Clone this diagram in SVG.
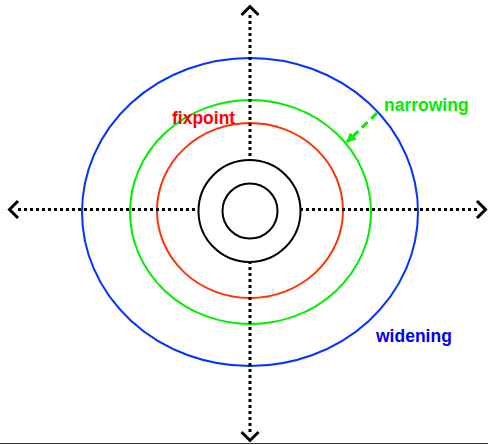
<svg xmlns="http://www.w3.org/2000/svg" width="488" height="445" viewBox="0 0 488 445">
<style>
.axis{stroke:#000;stroke-width:3;stroke-dasharray:3 3;fill:none}
.head{stroke:#000;stroke-width:3;fill:none;stroke-linecap:butt;stroke-linejoin:miter}
.ring{fill:none;stroke-width:2}
.lbl{font-family:"Liberation Sans",Arial,sans-serif;font-weight:bold;font-size:17.5px}
</style>
<defs>
<marker id="tri" markerWidth="10" markerHeight="10" refX="9" refY="5" orient="auto" markerUnits="userSpaceOnUse">
<path d="M0,0 L10,5 L0,10 Z" fill="#00ee00"/>
</marker>
</defs>
<rect width="488" height="445" fill="#fff"/>
<g id="widening-ring"><ellipse class="ring" cx="250" cy="212" rx="168" ry="154" stroke="#0033ff"/></g>
<g id="narrowing-ring"><ellipse class="ring" cx="250.5" cy="212" rx="120.5" ry="112" stroke="#00ee00"/></g>
<g id="fixpoint-ring"><ellipse class="ring" cx="250" cy="210.5" rx="93" ry="87.5" stroke="#ff3300"/></g>
<g id="connectors">
<line class="axis" x1="250" y1="15" x2="250" y2="433"/>
<path class="head" d="M241.5,15 L250,6.5 L258.5,15"/>
<path class="head" d="M241.5,432 L250,440.5 L258.5,432"/>
<line class="axis" x1="18" y1="209.5" x2="477" y2="209.5"/>
<path class="head" d="M18,201 L9.5,209.5 L18,218"/>
<path class="head" d="M477,201 L485.5,209.5 L477,218"/>
<line x1="377" y1="113" x2="347" y2="142" stroke="#00ee00" stroke-width="3" stroke-dasharray="8 5" marker-end="url(#tri)"/>
</g>
<g id="outer-core"><circle cx="249.5" cy="211" r="51" fill="#fff" stroke="#000" stroke-width="2"/></g>
<g id="inner-core"><circle cx="250" cy="211" r="27.5" fill="#fff" stroke="#000" stroke-width="2"/></g>
<g id="labels">
<text class="lbl" x="384" y="111" fill="#00ee00">narrowing</text>
<text class="lbl" x="172" y="123.5" fill="#ff0000">fixpoint</text>
<text class="lbl" x="376" y="341.5" fill="#0000ee">widening</text>
</g>
<line x1="0" y1="443.5" x2="488" y2="443.5" stroke="#333" stroke-width="1"/>
</svg>
